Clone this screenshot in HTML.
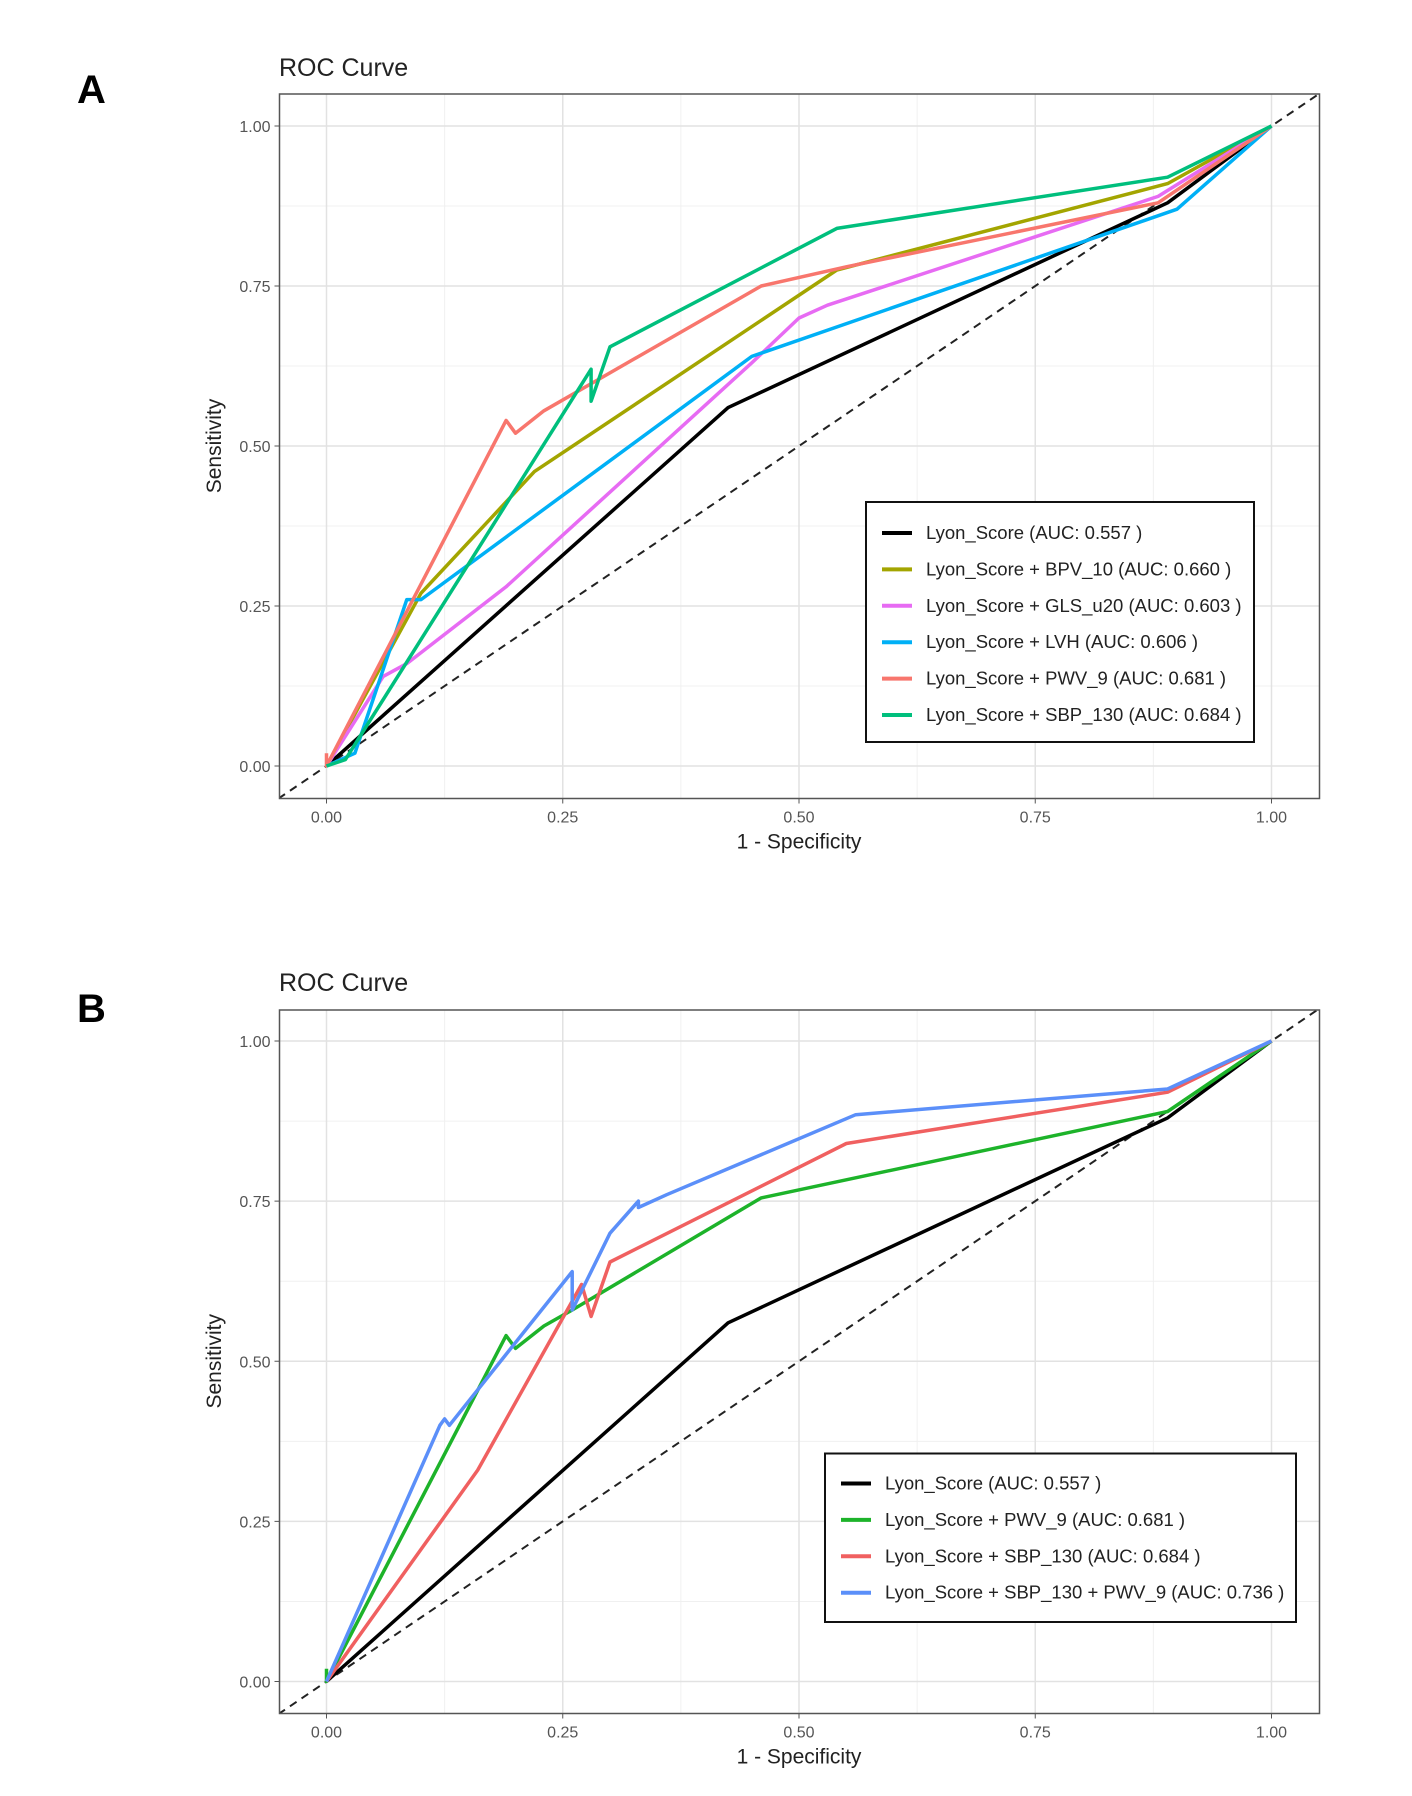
<!DOCTYPE html>
<html><head><meta charset="utf-8">
<style>
body{margin:0;background:#fff;}
svg{display:block;font-family:"Liberation Sans",Arial,sans-serif;}
</style></head>
<body>
<svg id="fig" width="1412" height="1796" viewBox="0 0 1412 1796" xmlns="http://www.w3.org/2000/svg">
<rect width="1412" height="1796" fill="#fff"/>
</svg>
<script>
// ---- data ----
const xTicks=[0,0.25,0.5,0.75,1];
const yTicks=[0,0.25,0.5,0.75,1];
const tickLabels=["0.00","0.25","0.50","0.75","1.00"];

const aNames=["Lyon_Score (AUC: 0.557 )","Lyon_Score + BPV_10 (AUC: 0.660 )","Lyon_Score + GLS_u20 (AUC: 0.603 )","Lyon_Score + LVH (AUC: 0.606 )","Lyon_Score + PWV_9 (AUC: 0.681 )","Lyon_Score + SBP_130 (AUC: 0.684 )"];
const aColors=["#000000","#A3A500","#E76BF3","#00B0F6","#F8766D","#00BF7D"];
const aLyonX=[0,0.425,0.89,1], aLyonY=[0,0.56,0.88,1];
const aBpvX=[0,0.1,0.22,0.54,0.89,1], aBpvY=[0,0.27,0.46,0.775,0.91,1];
const aGlsX=[0,0.06,0.085,0.19,0.45,0.5,0.53,0.88,1], aGlsY=[0,0.14,0.16,0.28,0.63,0.70,0.72,0.89,1];
const aLvhX=[0,0.03,0.085,0.1,0.45,0.9,1], aLvhY=[0,0.02,0.26,0.26,0.64,0.87,1];
const aPwvX=[0,0,0.19,0.2,0.23,0.46,0.55,0.88,1], aPwvY=[0.02,0,0.54,0.52,0.555,0.75,0.78,0.88,1];
const aSbpX=[0,0.02,0.28,0.28,0.3,0.54,0.89,1], aSbpY=[0,0.01,0.62,0.57,0.655,0.84,0.92,1];

const bNames=["Lyon_Score (AUC: 0.557 )","Lyon_Score + PWV_9 (AUC: 0.681 )","Lyon_Score + SBP_130 (AUC: 0.684 )","Lyon_Score + SBP_130 + PWV_9 (AUC: 0.736 )"];
const bColors=["#000000","#1DB32A","#F06060","#5B8FF9"];
const bLyonX=[0,0.425,0.89,1], bLyonY=[0,0.56,0.88,1];
const bPwvX=[0,0,0.19,0.2,0.23,0.26,0.46,0.89,1], bPwvY=[0.02,0,0.54,0.52,0.555,0.58,0.755,0.89,1];
const bSbpX=[0,0.16,0.27,0.28,0.3,0.55,0.89,1], bSbpY=[0,0.33,0.62,0.57,0.655,0.84,0.92,1];
const bComboX=[0,0.12,0.125,0.13,0.26,0.26,0.3,0.33,0.33,0.36,0.56,0.89,1], bComboY=[0,0.40,0.41,0.40,0.64,0.58,0.70,0.75,0.74,0.76,0.885,0.925,1];

const NS="http://www.w3.org/2000/svg";
const svg=document.getElementById('fig');
function mk(tag,attrs,parent){const e=document.createElementNS(NS,tag);for(const k in attrs)e.setAttribute(k,attrs[k]);(parent||svg).appendChild(e);return e;}

function panel(p){
  const g=mk('g',{});
  
  
  const sx=v=>p.x0+(p.x1-p.x0)*v, sy=v=>p.y0+(p.y1-p.y0)*v;
  const lab=mk('text',{x:77,y:p.labelY,'font-size':40,'font-weight':'bold',fill:'#000'},g);
  lab.textContent=p.id.toUpperCase();
  
  
  const t=mk('text',{x:279,y:p.titleY,'font-size':25,fill:'#222'},g);
  t.textContent='ROC Curve';
  
  
  for(let i=0;i<4;i++){const v=0.125+0.25*i;
    mk('line',{x1:sx(v),x2:sx(v),y1:p.top,y2:p.bottom,stroke:'#f0f0f0','stroke-width':1},g);
    mk('line',{y1:sy(v),y2:sy(v),x1:p.left,x2:p.right,stroke:'#f0f0f0','stroke-width':1},g);}
  xTicks.forEach(v=>mk('line',{x1:sx(v),x2:sx(v),y1:p.top,y2:p.bottom,stroke:'#e2e2e2','stroke-width':1.5},g));
  yTicks.forEach(v=>mk('line',{y1:sy(v),y2:sy(v),x1:p.left,x2:p.right,stroke:'#e2e2e2','stroke-width':1.5},g));
  const cid='clip'+p.id;
  const cp=mk('clipPath',{id:cid},g);mk('rect',{x:p.left,y:p.top,width:p.right-p.left,height:p.bottom-p.top},cp);
  const diag=mk('line',{x1:sx(-0.1),y1:sy(-0.1),x2:sx(1.1),y2:sy(1.1),stroke:'#222','stroke-width':2,'stroke-dasharray':'8,6','clip-path':`url(#${cid})`},g);
  
  
  p.series.forEach((s,i)=>{
    const pts=s[0].map((x,j)=>sx(x).toFixed(1)+','+sy(s[1][j]).toFixed(1)).join(' ');
    const pl=mk('polyline',{points:pts,fill:'none',stroke:p.colors[i],'stroke-width':3.5,'stroke-linejoin':'round','clip-path':`url(#${cid})`},g);
    
    
  });
  mk('rect',{x:p.left,y:p.top,width:p.right-p.left,height:p.bottom-p.top,fill:'none',stroke:'#555','stroke-width':1.5},g);
  xTicks.forEach((v,i)=>{
    mk('line',{x1:sx(v),x2:sx(v),y1:p.bottom,y2:p.bottom+5,stroke:'#555'},g);
    const tx=mk('text',{x:sx(v),y:p.bottom+24,'font-size':16,fill:'#555','text-anchor':'middle'},g);
    tx.textContent=tickLabels[i];
    
    
  });
  yTicks.forEach((v,i)=>{
    mk('line',{x1:p.left-5,x2:p.left,y1:sy(v),y2:sy(v),stroke:'#555'},g);
    const ty=mk('text',{x:p.left-9,y:sy(v)+6,'font-size':16,fill:'#555','text-anchor':'end'},g);
    ty.textContent=tickLabels[i];
    
    
  });
  const xt=mk('text',{x:(sx(0)+sx(1))/2,y:p.bottom+50,'font-size':21,fill:'#222','text-anchor':'middle'},g);
  xt.textContent='1 - Specificity';
  
  
  const cy=(sy(0)+sy(1))/2;
  const yt=mk('text',{x:221,y:cy,'font-size':21,fill:'#222','text-anchor':'middle',transform:`rotate(-90 221 ${cy})`},g);
  yt.textContent='Sensitivity';
  
  
  const lg=mk('g',{},g);
  
  
  mk('rect',{x:p.lg.x,y:p.lg.y,width:p.lg.w,height:p.lg.h,fill:'#fff',stroke:'#111','stroke-width':2},lg);
  p.names.forEach((n,i)=>{
    const y=p.lg.y+p.lg.first+i*p.lg.step;
    const e=mk('g',{},lg);
    
    
    mk('line',{x1:p.lg.x+16,x2:p.lg.x+46,y1:y,y2:y,stroke:p.colors[i],'stroke-width':4},e);
    const tt=mk('text',{x:p.lg.x+60,y:y+6,'font-size':18.5,fill:'#222'},e);
    tt.textContent=n;
  });
}

panel({id:'a',labelY:103,titleY:76,left:279.5,right:1319.5,top:94,bottom:798.5,x0:326.5,x1:1271.5,y0:766,y1:126,
  colors:aColors,names:aNames,
  series:[[aLyonX,aLyonY],[aBpvX,aBpvY],[aGlsX,aGlsY],[aLvhX,aLvhY],[aPwvX,aPwvY],[aSbpX,aSbpY]],
  lg:{x:866,y:502,w:388,h:240,first:31,step:36.4}});
panel({id:'b',labelY:1022,titleY:991,left:279.5,right:1319.5,top:1010,bottom:1713.5,x0:326.5,x1:1271.5,y0:1681.5,y1:1041,
  colors:bColors,names:bNames,
  series:[[bLyonX,bLyonY],[bPwvX,bPwvY],[bSbpX,bSbpY],[bComboX,bComboY]],
  lg:{x:825,y:1453.5,w:471,h:168.5,first:30,step:36.4}});
</script>
</body></html>
